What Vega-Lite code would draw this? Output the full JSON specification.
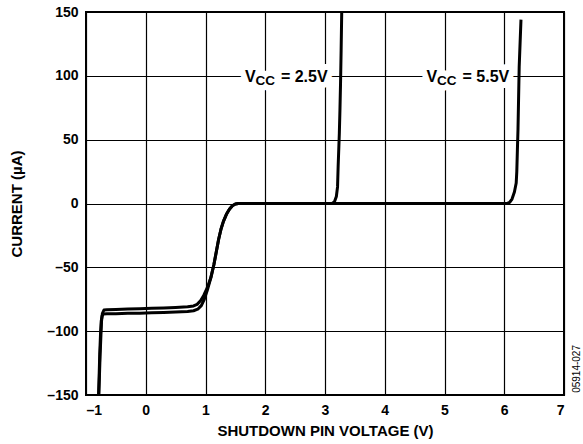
{
  "$schema": "https://vega.github.io/schema/vega-lite/v6.json",
  "width": 478,
  "height": 383,
  "autosize": {"type": "none"},
  "padding": {"left": 86, "top": 12, "right": 19, "bottom": 49},
  "config": {
    "view": {"stroke": "#000", "strokeWidth": 2},
    "font": "Liberation Sans",
    "axis": {
      "grid": true, "gridColor": "#000", "gridOpacity": 1, "gridWidth": 1.2,
      "domain": false, "ticks": false,
      "labelFont": "Liberation Sans", "labelFontWeight": "bold", "labelFontSize": 14, "labelColor": "#000",
      "titleFont": "Liberation Sans", "titleFontWeight": "bold", "titleFontSize": 15, "titleColor": "#000"
    }
  },
  "datasets": {
    "curves": [
      {"vcc": "2.5V", "i": 1, "v": -0.79, "c": -150},
      {"vcc": "2.5V", "i": 2, "v": -0.78, "c": -135},
      {"vcc": "2.5V", "i": 3, "v": -0.77, "c": -118},
      {"vcc": "2.5V", "i": 4, "v": -0.755, "c": -100},
      {"vcc": "2.5V", "i": 5, "v": -0.745, "c": -92},
      {"vcc": "2.5V", "i": 6, "v": -0.73, "c": -88},
      {"vcc": "2.5V", "i": 7, "v": -0.71, "c": -86.6},
      {"vcc": "2.5V", "i": 8, "v": -0.65, "c": -86.4},
      {"vcc": "2.5V", "i": 9, "v": -0.5, "c": -86.3},
      {"vcc": "2.5V", "i": 10, "v": -0.3, "c": -86.0},
      {"vcc": "2.5V", "i": 11, "v": -0.1, "c": -85.9},
      {"vcc": "2.5V", "i": 12, "v": 0.1, "c": -85.6},
      {"vcc": "2.5V", "i": 13, "v": 0.3, "c": -85.3},
      {"vcc": "2.5V", "i": 14, "v": 0.5, "c": -85.0},
      {"vcc": "2.5V", "i": 15, "v": 0.7, "c": -84.6},
      {"vcc": "2.5V", "i": 16, "v": 0.8, "c": -84.0},
      {"vcc": "2.5V", "i": 17, "v": 0.87, "c": -82.8},
      {"vcc": "2.5V", "i": 18, "v": 0.93, "c": -80},
      {"vcc": "2.5V", "i": 19, "v": 0.98, "c": -75},
      {"vcc": "2.5V", "i": 20, "v": 1.03, "c": -68},
      {"vcc": "2.5V", "i": 21, "v": 1.09, "c": -58},
      {"vcc": "2.5V", "i": 22, "v": 1.14, "c": -48},
      {"vcc": "2.5V", "i": 23, "v": 1.18, "c": -38},
      {"vcc": "2.5V", "i": 24, "v": 1.22, "c": -28},
      {"vcc": "2.5V", "i": 25, "v": 1.26, "c": -20},
      {"vcc": "2.5V", "i": 26, "v": 1.30, "c": -14},
      {"vcc": "2.5V", "i": 27, "v": 1.35, "c": -8.5},
      {"vcc": "2.5V", "i": 28, "v": 1.40, "c": -4.5},
      {"vcc": "2.5V", "i": 29, "v": 1.45, "c": -1.8},
      {"vcc": "2.5V", "i": 30, "v": 1.50, "c": -0.4},
      {"vcc": "2.5V", "i": 31, "v": 1.55, "c": 0},
      {"vcc": "2.5V", "i": 32, "v": 2.0, "c": 0},
      {"vcc": "2.5V", "i": 33, "v": 3.0, "c": 0},
      {"vcc": "2.5V", "i": 34, "v": 3.12, "c": 0},
      {"vcc": "2.5V", "i": 35, "v": 3.16, "c": 1.5},
      {"vcc": "2.5V", "i": 36, "v": 3.19, "c": 5.5},
      {"vcc": "2.5V", "i": 37, "v": 3.21, "c": 13},
      {"vcc": "2.5V", "i": 38, "v": 3.22, "c": 29},
      {"vcc": "2.5V", "i": 39, "v": 3.24, "c": 55},
      {"vcc": "2.5V", "i": 40, "v": 3.25, "c": 73},
      {"vcc": "2.5V", "i": 41, "v": 3.26, "c": 94},
      {"vcc": "2.5V", "i": 42, "v": 3.27, "c": 120},
      {"vcc": "2.5V", "i": 43, "v": 3.28, "c": 150},
      {"vcc": "5.5V", "i": 1, "v": -0.785, "c": -150},
      {"vcc": "5.5V", "i": 2, "v": -0.775, "c": -135},
      {"vcc": "5.5V", "i": 3, "v": -0.765, "c": -120},
      {"vcc": "5.5V", "i": 4, "v": -0.75, "c": -103},
      {"vcc": "5.5V", "i": 5, "v": -0.74, "c": -92},
      {"vcc": "5.5V", "i": 6, "v": -0.725, "c": -86},
      {"vcc": "5.5V", "i": 7, "v": -0.70, "c": -83.5},
      {"vcc": "5.5V", "i": 8, "v": -0.65, "c": -83.2},
      {"vcc": "5.5V", "i": 9, "v": -0.5, "c": -83.0},
      {"vcc": "5.5V", "i": 10, "v": -0.3, "c": -82.7},
      {"vcc": "5.5V", "i": 11, "v": -0.1, "c": -82.4},
      {"vcc": "5.5V", "i": 12, "v": 0.1, "c": -82.1},
      {"vcc": "5.5V", "i": 13, "v": 0.3, "c": -81.8},
      {"vcc": "5.5V", "i": 14, "v": 0.5, "c": -81.4},
      {"vcc": "5.5V", "i": 15, "v": 0.7, "c": -80.8},
      {"vcc": "5.5V", "i": 16, "v": 0.8, "c": -80.2},
      {"vcc": "5.5V", "i": 17, "v": 0.86, "c": -79},
      {"vcc": "5.5V", "i": 18, "v": 0.92, "c": -76},
      {"vcc": "5.5V", "i": 19, "v": 0.97, "c": -72},
      {"vcc": "5.5V", "i": 20, "v": 1.03, "c": -66},
      {"vcc": "5.5V", "i": 21, "v": 1.09, "c": -58},
      {"vcc": "5.5V", "i": 22, "v": 1.14, "c": -48},
      {"vcc": "5.5V", "i": 23, "v": 1.18, "c": -38},
      {"vcc": "5.5V", "i": 24, "v": 1.22, "c": -28},
      {"vcc": "5.5V", "i": 25, "v": 1.26, "c": -20},
      {"vcc": "5.5V", "i": 26, "v": 1.30, "c": -14},
      {"vcc": "5.5V", "i": 27, "v": 1.35, "c": -8.5},
      {"vcc": "5.5V", "i": 28, "v": 1.40, "c": -4.5},
      {"vcc": "5.5V", "i": 29, "v": 1.45, "c": -1.8},
      {"vcc": "5.5V", "i": 30, "v": 1.50, "c": -0.4},
      {"vcc": "5.5V", "i": 31, "v": 1.55, "c": 0},
      {"vcc": "5.5V", "i": 32, "v": 3.0, "c": 0},
      {"vcc": "5.5V", "i": 33, "v": 5.0, "c": 0},
      {"vcc": "5.5V", "i": 34, "v": 6.05, "c": 0},
      {"vcc": "5.5V", "i": 35, "v": 6.09, "c": 0.8},
      {"vcc": "5.5V", "i": 36, "v": 6.13, "c": 3.5},
      {"vcc": "5.5V", "i": 37, "v": 6.17, "c": 9},
      {"vcc": "5.5V", "i": 38, "v": 6.2, "c": 16},
      {"vcc": "5.5V", "i": 39, "v": 6.21, "c": 25},
      {"vcc": "5.5V", "i": 40, "v": 6.22, "c": 42},
      {"vcc": "5.5V", "i": 41, "v": 6.23, "c": 58},
      {"vcc": "5.5V", "i": 42, "v": 6.25, "c": 107},
      {"vcc": "5.5V", "i": 43, "v": 6.28, "c": 144}
    ],
    "labels": [
      {"vcc": "2.5V", "v": 1.66, "c": 100, "rest": "= 2.5V"},
      {"vcc": "5.5V", "v": 4.70, "c": 100, "rest": "= 5.5V"}
    ],
    "code": [
      {"v": 7.215, "c": -129.6, "t": "05914-027"}
    ]
  },
  "layer": [
    {
      "data": {"name": "curves"},
      "mark": {"type": "line", "color": "#000", "strokeWidth": 3, "clip": true, "strokeJoin": "round"},
      "encoding": {
        "x": {
          "field": "v", "type": "quantitative",
          "scale": {"domain": [-1, 7], "nice": false, "zero": false},
          "axis": {"values": [-1, 0, 1, 2, 3, 4, 5, 6, 7], "labelPadding": 8, "titlePadding": 6,
                   "labelExpr": "datum.value < 0 ? '–' + abs(datum.value) : '' + datum.value"},
          "title": "SHUTDOWN PIN VOLTAGE (V)"
        },
        "y": {
          "field": "c", "type": "quantitative",
          "scale": {"domain": [-150, 150], "nice": false, "zero": false},
          "axis": {"values": [-150, -100, -50, 0, 50, 100, 150], "labelPadding": 8, "titlePadding": 22,
                   "labelExpr": "datum.value < 0 ? '–' + abs(datum.value) : '' + datum.value"},
          "title": "CURRENT (µA)"
        },
        "detail": {"field": "vcc"},
        "order": {"field": "i", "type": "quantitative"}
      }
    },
    {
      "data": {"name": "labels"},
      "mark": {"type": "text", "text": "V", "align": "left", "baseline": "alphabetic", "dy": 6, "fontSize": 16, "fontWeight": "bold", "font": "Liberation Sans", "fill": "#fff", "stroke": "#fff", "strokeWidth": 12, "strokeJoin": "round"},
      "encoding": {"x": {"field": "v", "type": "quantitative"}, "y": {"field": "c", "type": "quantitative"}}
    },
    {
      "data": {"name": "labels"},
      "mark": {"type": "text", "text": "CC", "align": "left", "baseline": "alphabetic", "dx": 10.5, "dy": 9.5, "fontSize": 13.5, "fontWeight": "bold", "font": "Liberation Sans", "fill": "#fff", "stroke": "#fff", "strokeWidth": 12, "strokeJoin": "round"},
      "encoding": {"x": {"field": "v", "type": "quantitative"}, "y": {"field": "c", "type": "quantitative"}}
    },
    {
      "data": {"name": "labels"},
      "mark": {"type": "text", "align": "left", "baseline": "alphabetic", "dx": 36, "dy": 6, "fontSize": 16, "fontWeight": "bold", "font": "Liberation Sans", "fill": "#fff", "stroke": "#fff", "strokeWidth": 12, "strokeJoin": "round"},
      "encoding": {"x": {"field": "v", "type": "quantitative"}, "y": {"field": "c", "type": "quantitative"}, "text": {"field": "rest"}}
    },
    {
      "data": {"name": "labels"},
      "mark": {"type": "text", "text": "V", "align": "left", "baseline": "alphabetic", "dy": 6, "fontSize": 16, "fontWeight": "bold", "font": "Liberation Sans", "color": "#000"},
      "encoding": {"x": {"field": "v", "type": "quantitative"}, "y": {"field": "c", "type": "quantitative"}}
    },
    {
      "data": {"name": "labels"},
      "mark": {"type": "text", "text": "CC", "align": "left", "baseline": "alphabetic", "dx": 10.5, "dy": 9.5, "fontSize": 13.5, "fontWeight": "bold", "font": "Liberation Sans", "color": "#000"},
      "encoding": {"x": {"field": "v", "type": "quantitative"}, "y": {"field": "c", "type": "quantitative"}}
    },
    {
      "data": {"name": "labels"},
      "mark": {"type": "text", "align": "left", "baseline": "alphabetic", "dx": 36, "dy": 6, "fontSize": 16, "fontWeight": "bold", "font": "Liberation Sans", "color": "#000"},
      "encoding": {"x": {"field": "v", "type": "quantitative"}, "y": {"field": "c", "type": "quantitative"}, "text": {"field": "rest"}}
    },
    {
      "data": {"name": "code"},
      "mark": {"type": "text", "angle": 270, "align": "center", "baseline": "middle", "fontSize": 10, "font": "Liberation Sans", "color": "#000"},
      "encoding": {"x": {"field": "v", "type": "quantitative"}, "y": {"field": "c", "type": "quantitative"}, "text": {"field": "t"}}
    }
  ]
}
